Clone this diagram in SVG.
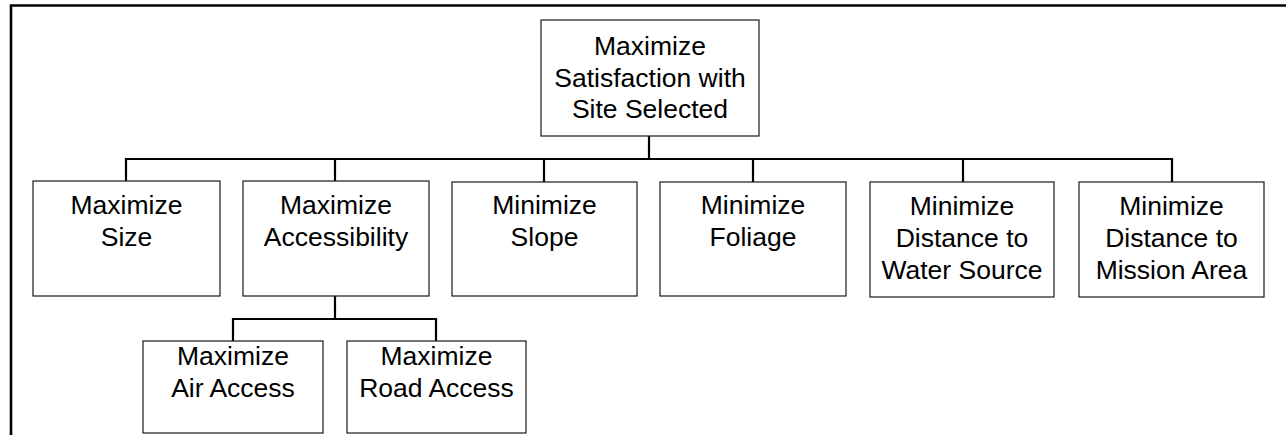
<svg xmlns="http://www.w3.org/2000/svg" width="1286" height="435" viewBox="0 0 1286 435">
<style>
.box{fill:#fff;stroke:#1a1a1a;stroke-width:1.2}
.lbl{font-family:"Liberation Sans",Arial,sans-serif;font-size:26.5px;fill:#000;text-anchor:middle}
.con{fill:none;stroke:#000;stroke-width:2.2}
.frame{fill:none;stroke:#000;stroke-width:2.6}
</style>
<path class="frame" d="M11 435 V5.5 H1286"/>
<g id="connectors">
<path class="con" d="M649 136 V159"/>
<path class="con" d="M126 181 V159 H1172 V182"/>
<path class="con" d="M335 159 V181"/>
<path class="con" d="M544 159 V182"/>
<path class="con" d="M753 159 V182"/>
<path class="con" d="M963 159 V182"/>
<path class="con" d="M335 296 V319"/>
<path class="con" d="M233 341 V319 H436 V341"/>
</g>
<g id="root">
<rect class="box" x="541" y="20" width="218" height="116"/>
<text class="lbl" x="650" y="55">Maximize</text>
<text class="lbl" x="650" y="87">Satisfaction with</text>
<text class="lbl" x="650" y="118">Site Selected</text>
</g>
<g id="size">
<rect class="box" x="33" y="181" width="187" height="115"/>
<text class="lbl" x="126.5" y="214">Maximize</text>
<text class="lbl" x="126.5" y="246">Size</text>
</g>
<g id="accessibility">
<rect class="box" x="243" y="181" width="186" height="115"/>
<text class="lbl" x="336" y="214">Maximize</text>
<text class="lbl" x="336" y="246">Accessibility</text>
</g>
<g id="slope">
<rect class="box" x="452" y="182" width="185" height="114"/>
<text class="lbl" x="544.5" y="214">Minimize</text>
<text class="lbl" x="544.5" y="246">Slope</text>
</g>
<g id="foliage">
<rect class="box" x="660" y="182" width="186" height="114"/>
<text class="lbl" x="753" y="214">Minimize</text>
<text class="lbl" x="753" y="246">Foliage</text>
</g>
<g id="water">
<rect class="box" x="870" y="182" width="184" height="115"/>
<text class="lbl" x="962" y="215">Minimize</text>
<text class="lbl" x="962" y="247">Distance to</text>
<text class="lbl" x="962" y="279">Water Source</text>
</g>
<g id="mission">
<rect class="box" x="1079" y="182" width="185" height="115"/>
<text class="lbl" x="1171.5" y="215">Minimize</text>
<text class="lbl" x="1171.5" y="247">Distance to</text>
<text class="lbl" x="1171.5" y="279">Mission Area</text>
</g>
<g id="air">
<rect class="box" x="143" y="341" width="180" height="92"/>
<text class="lbl" x="233" y="365">Maximize</text>
<text class="lbl" x="233" y="397">Air Access</text>
</g>
<g id="road">
<rect class="box" x="347" y="341" width="179" height="92"/>
<text class="lbl" x="436.5" y="365">Maximize</text>
<text class="lbl" x="436.5" y="397">Road Access</text>
</g>
</svg>
